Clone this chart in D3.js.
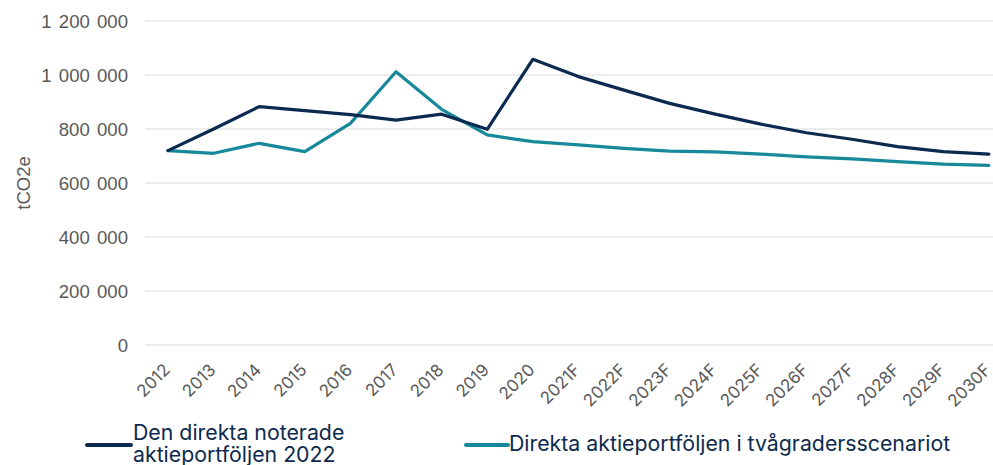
<!DOCTYPE html>
<html>
<head>
  <meta charset="utf-8">
  <title>tCO2e</title>
  <script src="https://d3js.org/d3.v7.min.js"></script>
  <style>
    body { margin: 0; background: #fff; }
    .ytick text { font-family: "Liberation Sans", Arial, sans-serif; font-size: 18.6px; word-spacing: 2px; fill: #595959; }
    .xtick text { font-family: Inter, sans-serif; font-size: 17px; fill: #595959; }
    .legend text { font-family: Inter, sans-serif; font-size: 21.3px; fill: #0d2a4e; }
  </style>
</head>
<body>
<script>
  var years = ["2012","2013","2014","2015","2016","2017","2018","2019","2020",
    "2021F","2022F","2023F","2024F","2025F","2026F","2027F","2028F","2029F","2030F"];

  // den direkta noterade aktieportföljen 2022
  var portfolio = [720000, 800000, 883000, 868000, 853000, 833000, 855000, 799000, 1058000,
    994000, 944000, 895000, 855000, 818000, 786000, 762000, 735000, 716000, 707000];

  // tvågradersscenariot
  var twoDegree = [720000, 710000, 747000, 716000, 821000, 1012000, 873000, 778000, 753000,
    741000, 728000, 718000, 715000, 707000, 697000, 689000, 679000, 670000, 665000];

  var yTicks = [0, 200000, 400000, 600000, 800000, 1000000, 1200000];
  var seriesNames = ["Den direkta noterade aktieportföljen 2022", "Direkta aktieportföljen i tvågradersscenariot"];
  var colors = ["#0c2a4f", "#17899a"];

  var width = 993, height = 465;

  var svg = d3.select("body").append("svg")
    .attr("width", width)
    .attr("height", height);

  var x = d3.scaleBand()
    .domain(years)
    .range([145.2, 1011.6]);

  var y = d3.scaleLinear()
    .domain([0, 1200000])
    .range([345, 21]);

  var fmt = function(v) { return d3.format(",")(v).replace(/,/g, " "); };

  // gridlines
  svg.append("g")
    .selectAll("line")
    .data(yTicks)
    .enter()
    .append("line")
    .attr("x1", 145)
    .attr("x2", width)
    .attr("y1", d => y(d))
    .attr("y2", d => y(d))
    .attr("stroke", "#d9d9d9")
    .attr("stroke-width", 1.2);

  // y axis labels
  var yAxis = svg.append("g")
    .attr("class", "ytick")
    .attr("transform", "translate(128,0)")
    .call(d3.axisLeft(y).tickValues(yTicks).tickFormat(fmt).tickSize(0).tickPadding(0));
  yAxis.select(".domain").remove();
  yAxis.selectAll("text").attr("dy", "0.35em");

  svg.append("text")
    .attr("transform", "translate(30,183) rotate(-90)")
    .attr("text-anchor", "middle")
    .style("font-family", "'Liberation Sans', Arial, sans-serif")
    .style("font-size", "18.5px")
    .style("fill", "#595959")
    .text("tCO2e");

  // x axis labels, rotated
  var xAxis = svg.append("g")
    .attr("class", "xtick")
    .call(d3.axisBottom(x).tickSize(0).tickPadding(0));
  xAxis.select(".domain").remove();
  xAxis.selectAll("text")
    .attr("text-anchor", "end")
    .attr("y", 0)
    .attr("dy", null)
    .attr("transform", "translate(3,371) rotate(-45)");

  var line = d3.line()
    .x((d, i) => x(years[i]) + x.bandwidth() / 2)
    .y(d => y(d));

  svg.append("path")
    .datum(twoDegree)
    .attr("fill", "none")
    .attr("stroke", colors[1])
    .attr("stroke-width", 3.2)
    .attr("stroke-linejoin", "round")
    .attr("stroke-linecap", "round")
    .attr("d", line);

  svg.append("path")
    .datum(portfolio)
    .attr("fill", "none")
    .attr("stroke", colors[0])
    .attr("stroke-width", 3.2)
    .attr("stroke-linejoin", "round")
    .attr("stroke-linecap", "round")
    .attr("d", line);

  // legend
  var legend = svg.append("g").attr("class", "legend");

  legend.append("line")
    .attr("x1", 87).attr("x2", 131)
    .attr("y1", 445).attr("y2", 445)
    .attr("stroke", colors[0]).attr("stroke-width", 4).attr("stroke-linecap", "round");
  var t1 = legend.append("text").attr("x", 133).attr("y", 440);
  t1.append("tspan").attr("x", 133).attr("y", 440).text("Den direkta noterade");
  t1.append("tspan").attr("x", 133).attr("y", 462).text("aktieportföljen 2022");

  legend.append("line")
    .attr("x1", 466).attr("x2", 508)
    .attr("y1", 445).attr("y2", 445)
    .attr("stroke", colors[1]).attr("stroke-width", 4).attr("stroke-linecap", "round");
  legend.append("text")
    .attr("x", 509).attr("y", 451)
    .text(seriesNames[1]);
</script>
</body>
</html>
